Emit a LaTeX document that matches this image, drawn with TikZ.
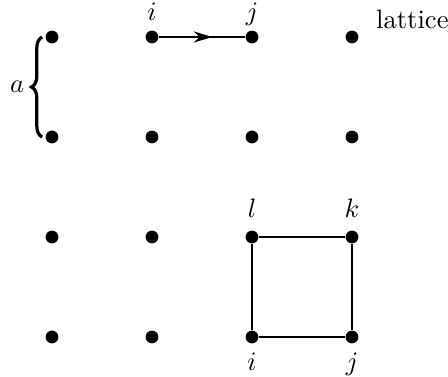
\documentclass[tikz,border=0pt]{standalone}
\usetikzlibrary{arrows.meta,positioning,decorations.pathreplacing,decorations.markings}

\begin{document}
\begin{tikzpicture}[x=1.32cm,y=1.32cm,
  site/.style={circle,fill=black,inner sep=0pt,minimum size=4.8pt},
  lbl/.style={text height=1.5ex,text depth=.25ex},
  bond/.style={line width=0.6pt},
  midarrow/.style={bond,decoration={markings,mark=at position 0.62 with {\arrow{Stealth[length=7pt,width=4.2pt]}}},postaction={decorate}},
  spacing/.style={line width=1.2pt,decoration={brace,amplitude=4pt},decorate}]
\useasboundingbox (-0.52,-0.39) rectangle (3.96,3.37);
% lattice sites
\foreach \x in {0,...,3}
  \foreach \y in {0,...,3}
    \node[site] (p\x\y) at (\x,\y) {};
% hopping term
\draw[midarrow] (p13)--(p23);
\node[lbl,above=-0.4mm of p13] {$i$};
\node[lbl,above=-0.4mm of p23] {$j$};
\node[above right=-0.8mm and 1.3mm of p33] {lattice};
% lattice spacing
\draw[spacing] ([xshift=-1.3mm]p02.center)--node[left=1.0mm] {$a$} ([xshift=-1.3mm]p03.center);
% plaquette
\draw[bond] (p20)--(p30)--(p31)--(p21)--(p20);
\node[lbl,below=0pt of p20] {$i$};
\node[lbl,below=0pt of p30] {$j$};
\node[lbl,above=0pt of p31] {$k$};
\node[lbl,above=0pt of p21] {$l$};
\end{tikzpicture}
\end{document}
